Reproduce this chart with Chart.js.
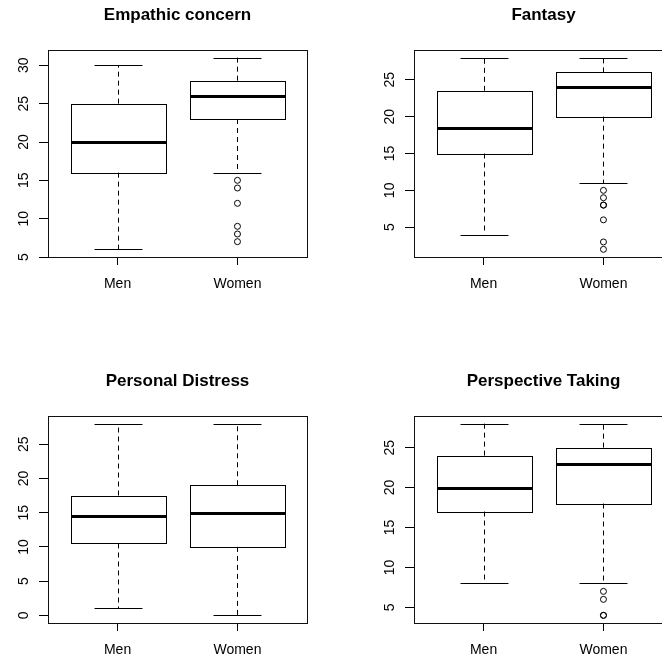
<!DOCTYPE html>
<html>
<head>
<meta charset="utf-8">
<script src="https://cdn.jsdelivr.net/npm/chart.js@4.4.1/dist/chart.umd.min.js"></script>
<style>
  body { margin: 0; background: #fff; }
  #wrap { position: relative; width: 662px; height: 659px; overflow: hidden; background: #fff; }
  #wrap canvas { position: absolute; }
</style>
</head>
<body>
<div id="wrap">
  <canvas id="chartEC" width="355" height="300" style="left:0px;top:0px"></canvas>
  <canvas id="chartFS" width="355" height="300" style="left:366px;top:0px"></canvas>
  <canvas id="chartPD" width="355" height="300" style="left:0px;top:366px"></canvas>
  <canvas id="chartPT" width="355" height="300" style="left:366px;top:366px"></canvas>
</div>
<script>
// groups on the x axis
const groups = ["Men", "Women"];

// Empathic concern
const ecLow = [6, 16];
const ecQ1 = [16, 23];
const ecMed = [20, 26];
const ecQ3 = [25, 28];
const ecHigh = [30, 31];
const ecOutWomen = [15, 14, 12, 9, 8, 7];
const ecTicks = [5, 10, 15, 20, 25, 30];

// Fantasy
const fsLow = [4, 11];
const fsQ1 = [15, 20];
const fsMed = [18.5, 24];
const fsQ3 = [23.5, 26];
const fsHigh = [28, 28];
const fsOutWomen = [10, 9, 8, 8, 6, 3, 2];
const fsTicks = [5, 10, 15, 20, 25];

// Personal Distress
const pdLow = [1, 0];
const pdQ1 = [10.5, 10];
const pdMed = [14.5, 15];
const pdQ3 = [17.5, 19];
const pdHigh = [28, 28];
const pdOutWomen = [];
const pdTicks = [0, 5, 10, 15, 20, 25];

// Perspective Taking
const ptLow = [8, 8];
const ptQ1 = [17, 18];
const ptMed = [20, 23];
const ptQ3 = [24, 25];
const ptHigh = [28, 28];
const ptOutWomen = [7, 6, 4, 4];
const ptTicks = [5, 10, 15, 20, 25];

Chart.defaults.font.family = "'Liberation Sans', Arial, Helvetica, sans-serif";
Chart.defaults.color = "#000";

const crisp = (v) => Math.round(v) + 0.5;

// box outline, whiskers, caps and medians, drawn with the chart's own scales
function whiskerPlugin(low, med, high, q1, q3) {
  return {
    id: "whiskers",
    afterDatasetsDraw(chart) {
      const ctx = chart.ctx;
      const { x, y } = chart.scales;
      const area = chart.chartArea;
      const bars = chart.getDatasetMeta(0).data;
      ctx.save();
      ctx.strokeStyle = "#000";
      bars.forEach((bar, i) => {
        const cx = crisp(x.getPixelForValue(i + 1));
        const half = bar.width / 2;
        const left = crisp(cx - half), right = crisp(cx + half);
        // dashed whiskers
        ctx.lineWidth = 1;
        ctx.setLineDash([5, 4]);
        ctx.beginPath();
        ctx.moveTo(cx, y.getPixelForValue(q3[i]));
        ctx.lineTo(cx, y.getPixelForValue(high[i]));
        ctx.moveTo(cx, y.getPixelForValue(q1[i]));
        ctx.lineTo(cx, y.getPixelForValue(low[i]));
        ctx.stroke();
        // caps
        ctx.setLineDash([]);
        ctx.beginPath();
        ctx.moveTo(cx - half / 2, crisp(y.getPixelForValue(high[i])));
        ctx.lineTo(cx + half / 2, crisp(y.getPixelForValue(high[i])));
        ctx.moveTo(cx - half / 2, crisp(y.getPixelForValue(low[i])));
        ctx.lineTo(cx + half / 2, crisp(y.getPixelForValue(low[i])));
        ctx.stroke();
        // box outline
        const top = crisp(y.getPixelForValue(q3[i]));
        const bot = crisp(y.getPixelForValue(q1[i]));
        ctx.strokeRect(left, top, right - left, bot - top);
        // median
        ctx.lineWidth = 3;
        ctx.lineCap = "butt";
        ctx.beginPath();
        ctx.moveTo(left, Math.round(y.getPixelForValue(med[i])) + 0.5);
        ctx.lineTo(right, Math.round(y.getPixelForValue(med[i])) + 0.5);
        ctx.stroke();
      });
      // plot frame
      ctx.lineWidth = 1;
      ctx.strokeStyle = "#111";
      ctx.strokeRect(crisp(area.left), crisp(area.top), Math.round(area.right - area.left), Math.round(area.bottom - area.top));
      ctx.restore();
    }
  };
}

function makeBoxplot(canvasId, title, low, q1, med, q3, high, outWomen, yTicks) {
  const all = low.concat(high, outWomen);
  const dMin = Math.min(...all);
  const dMax = Math.max(...all);
  const pad = (dMax - dMin) * 0.04;

  return new Chart(document.getElementById(canvasId), {
    type: "bar",
    data: {
      datasets: [
        {
          label: "box",
          data: groups.map((g, i) => ({ x: i + 1, y: [q1[i], q3[i]] })),
          backgroundColor: "#fff",
          borderWidth: 0,
          barPercentage: 1,
          categoryPercentage: 0.8
        },
        {
          type: "scatter",
          label: "outliers",
          data: outWomen.map(v => ({ x: 2, y: v })),
          pointStyle: "circle",
          pointRadius: 3,
          pointBorderWidth: 1,
          pointBorderColor: "#000",
          pointBackgroundColor: "rgba(0,0,0,0)"
        }
      ]
    },
    options: {
      responsive: false,
      animation: false,
      events: [],
      layout: { padding: { left: 0, right: 48, top: 0, bottom: 0 } },
      plugins: {
        legend: { display: false },
        tooltip: { enabled: false },
        title: {
          display: true,
          fullSize: false,
          text: title,
          color: "#000",
          font: { size: 17, weight: "bold", lineHeight: 1.2 },
          padding: { top: 5, bottom: 24.6 }
        }
      },
      scales: {
        x: {
          type: "linear",
          min: 0.42,
          max: 2.58,
          offset: false,
          afterBuildTicks: (s) => { s.ticks = groups.map((g, i) => ({ value: i + 1 })); },
          afterFit: (s) => { s.height = 43; },
          border: { display: false },
          grid: { offset: false, drawOnChartArea: false, drawTicks: true, tickLength: 8, color: "#000", lineWidth: 1 },
          ticks: {
            autoSkip: false,
            maxRotation: 0,
            padding: 11,
            font: { size: 14 },
            color: "#000",
            callback: (v) => groups[Math.round(v) - 1]
          }
        },
        y: {
          type: "linear",
          min: dMin - pad,
          max: dMax + pad,
          afterBuildTicks: (s) => { s.ticks = yTicks.map(v => ({ value: v })); },
          afterFit: (s) => { s.width = 48; },
          border: { display: false },
          grid: { drawOnChartArea: false, drawTicks: true, tickLength: 9, color: "#000", lineWidth: 1 },
          ticks: {
            minRotation: 90,
            maxRotation: 90,
            crossAlign: "center",
            padding: 7,
            font: { size: 14 },
            color: "#000"
          }
        }
      }
    },
    plugins: [whiskerPlugin(low, med, high, q1, q3)]
  });
}

makeBoxplot("chartEC", "Empathic concern", ecLow, ecQ1, ecMed, ecQ3, ecHigh, ecOutWomen, ecTicks);
makeBoxplot("chartFS", "Fantasy", fsLow, fsQ1, fsMed, fsQ3, fsHigh, fsOutWomen, fsTicks);
makeBoxplot("chartPD", "Personal Distress", pdLow, pdQ1, pdMed, pdQ3, pdHigh, pdOutWomen, pdTicks);
makeBoxplot("chartPT", "Perspective Taking", ptLow, ptQ1, ptMed, ptQ3, ptHigh, ptOutWomen, ptTicks);
</script>
</body>
</html>
